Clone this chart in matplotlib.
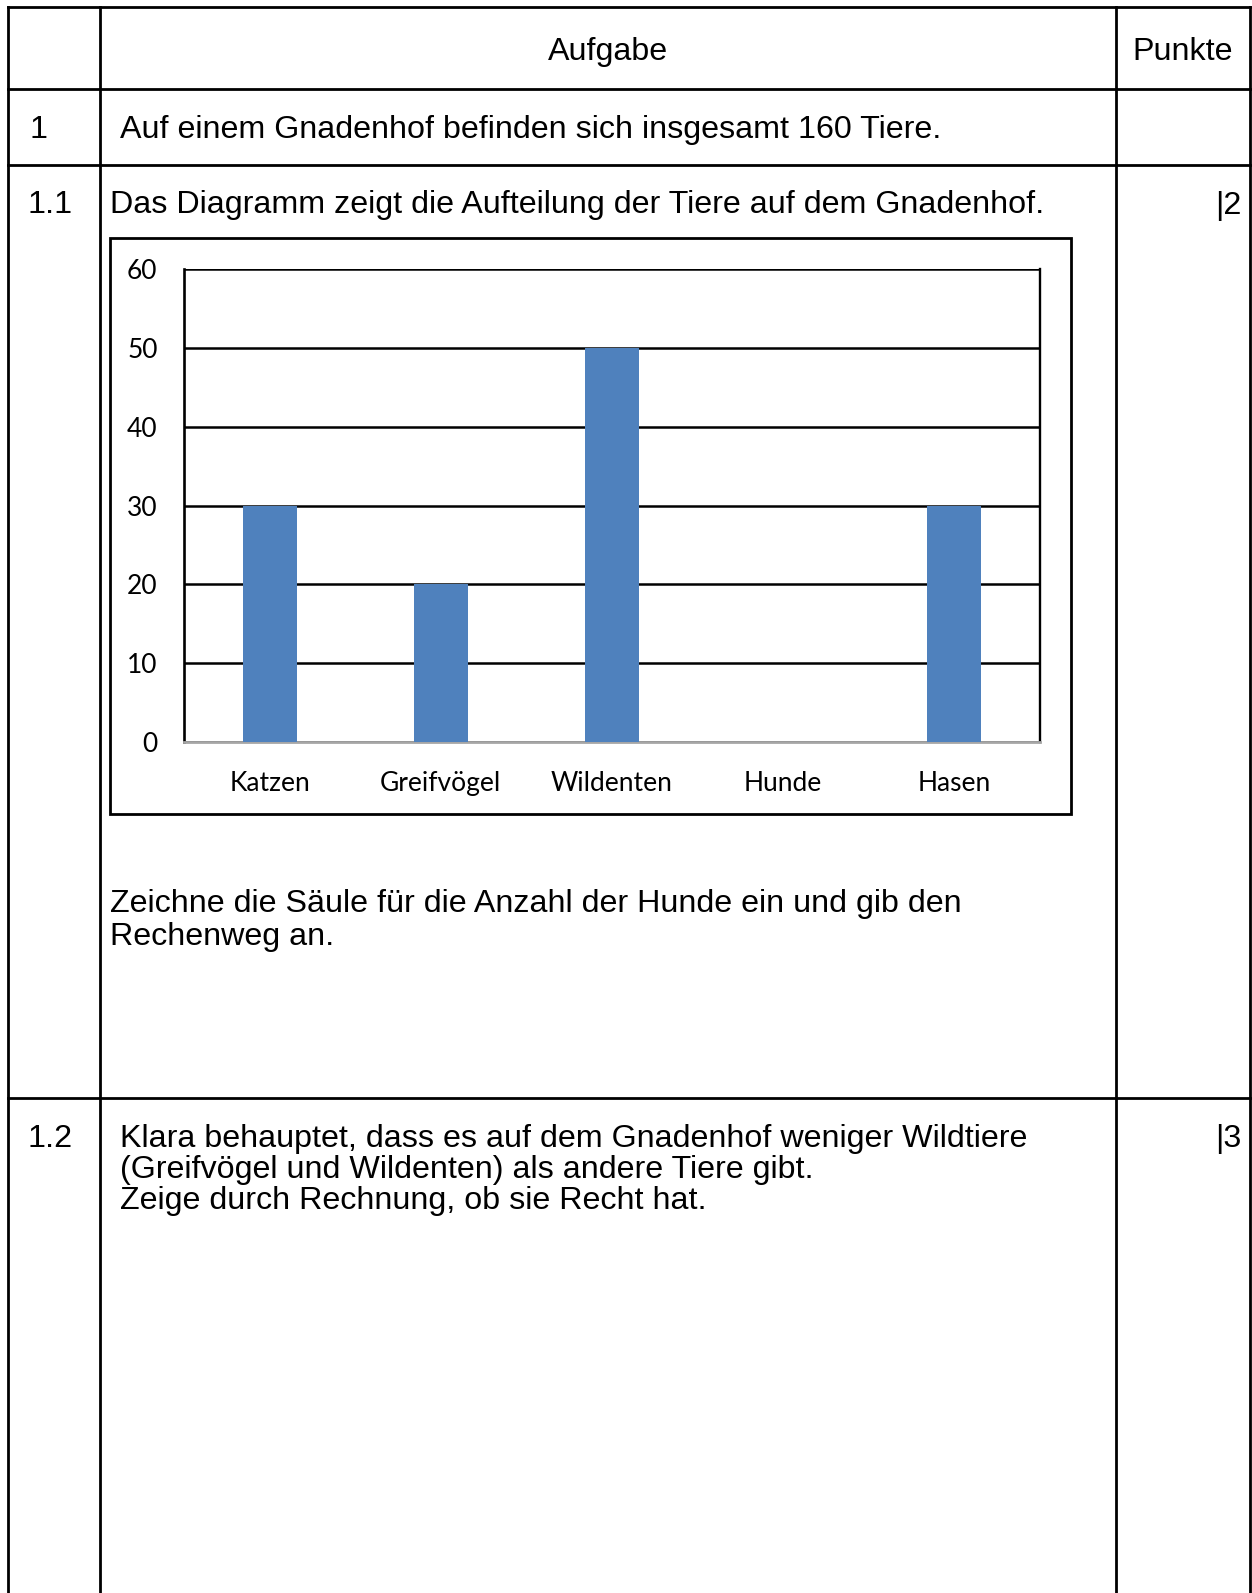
import matplotlib.pyplot as plt

# Daten des Diagramms
tiere = ['Katzen', 'Greifvögel', 'Wildenten', 'Hunde', 'Hasen']
anzahl = [30, 20, 50, 0, 30]   # Hunde fehlt (soll eingezeichnet werden)
y_ticks = [0, 10, 20, 30, 40, 50, 60]

# Texte der Tabelle
kopf = ['Aufgabe', 'Punkte']
nummern = ['1', '1.1', '1.2']
punkte = ['|2', '|3']
zeile_1 = 'Auf einem Gnadenhof befinden sich insgesamt 160 Tiere.'
zeile_11 = 'Das Diagramm zeigt die Aufteilung der Tiere auf dem Gnadenhof.'
auftrag_11 = ['Zeichne die Säule für die Anzahl der Hunde ein und gib den',
              'Rechenweg an.']
auftrag_12 = ['Klara behauptet, dass es auf dem Gnadenhof weniger Wildtiere',
              '(Greifvögel und Wildenten) als andere Tiere gibt.',
              'Zeige durch Rechnung, ob sie Recht hat.']

W, H = 1252, 1593
fig = plt.figure(figsize=(W / 100, H / 100), dpi=100)

# Seite in Pixel-Koordinaten
page = fig.add_axes([0, 0, 1, 1])
page.set_xlim(0, W)
page.set_ylim(H, 0)
page.axis('off')

lw = 2.0
# Tabellenrahmen
page.plot([8, 1250], [7, 7], color='black', lw=lw)
for y in [89, 165, 1098]:
    page.plot([8, 1250], [y, y], color='black', lw=lw)
for x in [8, 100, 1116, 1250]:
    page.plot([x, x], [7, H + 5], color='black', lw=lw)

txt = dict(family='Liberation Sans', fontsize=23.2, color='black', va='baseline')
page.text(608, 60, kopf[0], ha='center', **txt)
page.text(1183, 60, kopf[1], ha='center', **txt)
page.text(30, 138, nummern[0], ha='left', **txt)
page.text(120, 138, zeile_1, ha='left', **txt)
page.text(28, 213, nummern[1], ha='left', **txt)
page.text(110, 213, zeile_11, ha='left', **txt)
page.text(1241, 214, punkte[0], ha='right', **txt)
for i, s in enumerate(auftrag_11):
    page.text(110, 912 + i * 33, s, ha='left', **txt)
page.text(28, 1147, nummern[2], ha='left', **txt)
page.text(1241, 1147, punkte[1], ha='right', **txt)
for i, s in enumerate(auftrag_12):
    page.text(120, 1147 + i * 31, s, ha='left', **txt)

# Rahmen um das Diagramm
page.add_patch(plt.Rectangle((110, 238), 961, 576, fill=False,
                             edgecolor='black', lw=2.0))

# Säulendiagramm
ax = fig.add_axes([184 / W, 1 - 742 / H, 856 / W, 473 / H])
ax.bar(range(len(tiere)), anzahl, width=0.315, color='#4F81BD', zorder=3)
ax.set_xlim(-0.5, len(tiere) - 0.5)
ax.set_ylim(0, 60)
ax.set_yticks(y_ticks)
ax.set_xticks(range(len(tiere)))
ax.set_xticklabels(tiere)
ax.yaxis.grid(True, color='black', lw=1.8, zorder=0)
ax.set_axisbelow(True)
ax.spines['top'].set_visible(False)
ax.spines['left'].set_color('black')
ax.spines['left'].set_linewidth(1.9)
ax.spines['right'].set_color('black')
ax.spines['right'].set_linewidth(1.7)
ax.spines['bottom'].set_color('#a6a6a6')
ax.spines['bottom'].set_linewidth(2.0)
ax.tick_params(axis='both', length=0, labelsize=19)
ax.tick_params(axis='y', pad=19)
ax.tick_params(axis='x', pad=21)
for lab in ax.get_xticklabels() + ax.get_yticklabels():
    lab.set_family('Lato')

fig.savefig('out.png', dpi=100)
